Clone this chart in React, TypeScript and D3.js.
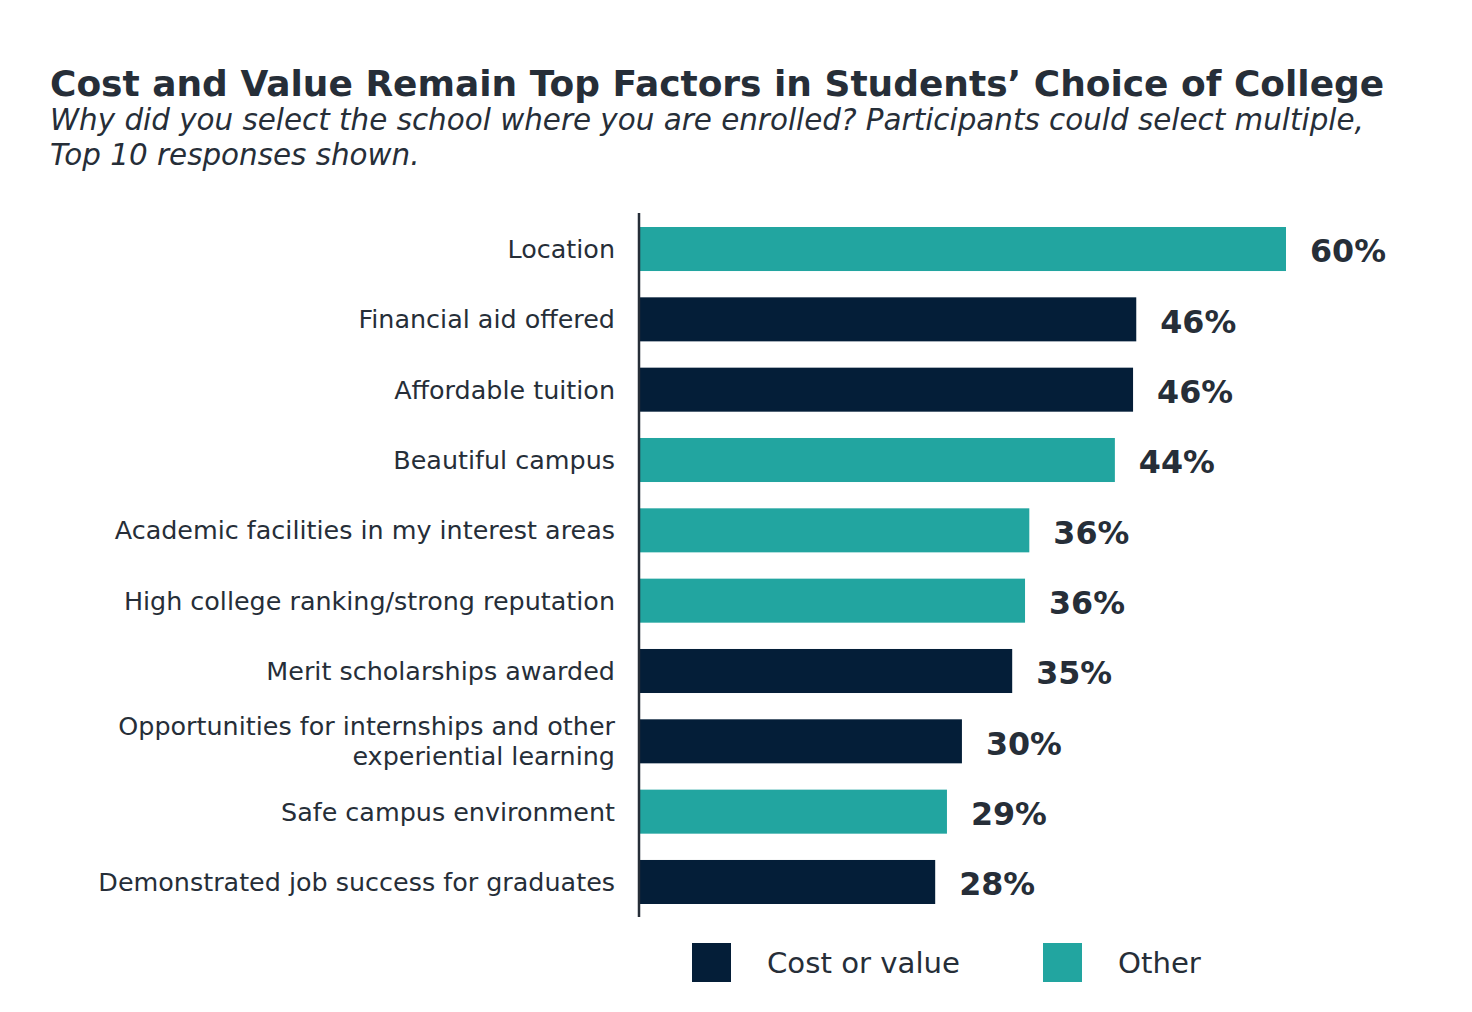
import React, { useEffect, useRef } from "react";
import * as d3 from "d3";

const categories = [
  "Location",
  "Financial aid offered",
  "Affordable tuition",
  "Beautiful campus",
  "Academic facilities in my interest areas",
  "High college ranking/strong reputation",
  "Merit scholarships awarded",
  "Opportunities for internships and other\nexperiential learning",
  "Safe campus environment",
  "Demonstrated job success for graduates",
];
const values = [60.4, 46.4, 46.1, 44.4, 36.4, 36.0, 34.8, 30.1, 28.7, 27.6];
const groups = ["Other", "Cost or value", "Cost or value", "Other", "Other", "Other", "Cost or value", "Cost or value", "Other", "Cost or value"];
const legendItems = ["Cost or value", "Other"];
const title = "Cost and Value Remain Top Factors in Students\u2019 Choice of College";
const subtitleLines = [
  "Why did you select the school where you are enrolled? Participants could select multiple,",
  "Top 10 responses shown.",
];

const W = 1472;
const H = 1012;
const NAVY = "#041E38";
const TEAL = "#22A5A0";
const TEXT = "#262E38";
const FONT = "'DejaVu Sans', Verdana, sans-serif";

function fit(sel: d3.Selection<SVGTextElement, any, any, any>, target: number, base: number) {
  const node = sel.node() as SVGTextElement;
  const w = node.getComputedTextLength();
  const size = (base * target) / w;
  sel.attr("font-size", size);
  return size;
}

export default function App() {
  const ref = useRef<SVGSVGElement>(null);
  useEffect(() => {
    const svg = d3.select(ref.current);
    svg.selectAll("*").remove();

    const x0 = 640;
    const x = d3.scaleLinear().domain([0, 60.4]).range([x0, 1286]);
    const y = d3
      .scaleBand<string>()
      .domain(categories)
      .range([227 - 70.33 * 0.187, 227 - 70.33 * 0.187 + 70.33 * 10])
      .paddingInner(0.374)
      .paddingOuter(0.187);
    const color = d3.scaleOrdinal<string, string>().domain(legendItems).range([NAVY, TEAL]);

    // Title
    const t = svg.append("text").attr("x", 50).attr("y", 96).attr("font-family", FONT)
      .attr("font-weight", "bold").attr("fill", TEXT).attr("font-size", 34).text(title);
    fit(t, 1335, 34);

    const s1 = svg.append("text").attr("x", 50).attr("y", 130).attr("font-family", FONT)
      .attr("font-style", "italic").attr("fill", TEXT).attr("font-size", 27).text(subtitleLines[0]);
    const subSize = fit(s1, 1315, 27);
    svg.append("text").attr("x", 50).attr("y", 165).attr("font-family", FONT)
      .attr("font-style", "italic").attr("fill", TEXT).attr("font-size", subSize).text(subtitleLines[1]);

    // Bars
    const bh = y.bandwidth();
    svg.append("g").selectAll("rect").data(categories).join("rect")
      .attr("x", x0)
      .attr("y", (d) => y(d)!)
      .attr("width", (_, i) => x(values[i]) - x0)
      .attr("height", bh)
      .attr("fill", (_, i) => color(groups[i]));

    // Axis line
    svg.append("line").attr("x1", 639).attr("x2", 639).attr("y1", 213).attr("y2", 917)
      .attr("stroke", TEXT).attr("stroke-width", 2.5);

    // Category labels
    const probe = svg.append("text").attr("font-family", FONT).attr("font-size", 24)
      .text("Demonstrated job success for graduates");
    const labSize = fit(probe, 517, 24);
    probe.remove();
    const lineGap = 30;
    categories.forEach((c, i) => {
      const lines = c.split("\n");
      const cy = y(c)! + bh / 2;
      const txt = svg.append("text").attr("font-family", FONT).attr("font-size", labSize)
        .attr("fill", TEXT).attr("text-anchor", "end");
      lines.forEach((ln, j) => {
        txt.append("tspan").attr("x", 615)
          .attr("y", cy + (j - (lines.length - 1) / 2) * lineGap)
          .attr("dy", "0.35em").text(ln);
      });
    });

    // Value labels
    const vprobe = svg.append("text").attr("font-family", FONT).attr("font-weight", "bold")
      .attr("font-size", 30).text("60%");
    const valSize = fit(vprobe, 76, 30);
    vprobe.remove();
    categories.forEach((c, i) => {
      svg.append("text").attr("x", x(values[i]) + 24).attr("y", y(c)! + bh / 2 + 2)
        .attr("dy", "0.36em").attr("font-family", FONT).attr("font-weight", "bold")
        .attr("font-size", valSize).attr("fill", TEXT).text(Math.round(values[i]) + "%");
    });

    // Legend
    const lprobe = svg.append("text").attr("font-family", FONT).attr("font-size", 28).text("Cost or value");
    const legSize = fit(lprobe, 193, 28);
    lprobe.remove();
    const legX = [692, 1043];
    legendItems.forEach((g, i) => {
      svg.append("rect").attr("x", legX[i]).attr("y", 943).attr("width", 39).attr("height", 39)
        .attr("fill", color(g));
      svg.append("text").attr("x", legX[i] + 75).attr("y", 962.5).attr("dy", "0.36em")
        .attr("font-family", FONT).attr("font-size", legSize).attr("fill", TEXT).text(g);
    });
  }, []);

  return (
    <svg ref={ref} width={W} height={H} style={{ display: "block", position: "absolute", left: 0, top: 0, background: "#fff" }} />
  );
}
